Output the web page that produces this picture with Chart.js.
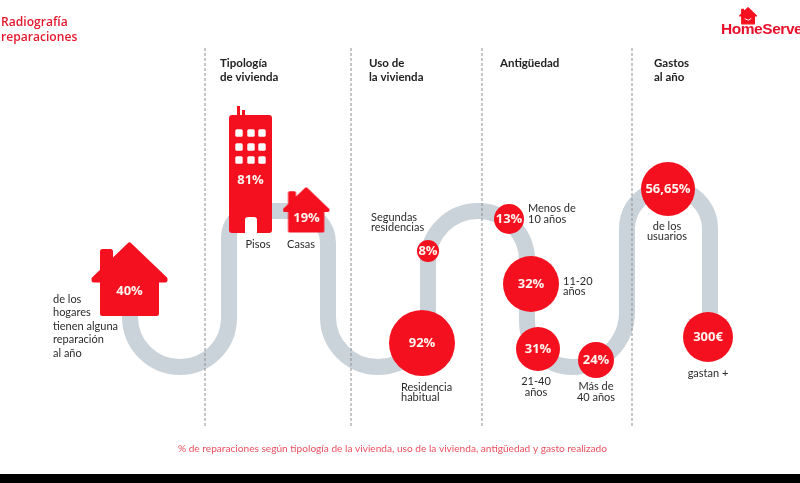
<!DOCTYPE html>
<html>
<head>
<meta charset="utf-8">
<style>
  html, body { margin: 0; background: #000; }
  canvas { display: block; background: #fff; }
</style>
<script src="https://cdn.jsdelivr.net/npm/chart.js@4/dist/chart.umd.min.js"></script>
</head>
<body>
<canvas id="chart" width="800" height="474"></canvas>
<script>
// values
const categories = ["Hogares", "Pisos", "Casas", "Residencia habitual", "Segundas residencias",
  "Menos de 10 años", "11-20 años", "21-40 años", "Más de 40 años", "Usuarios", "Gasto"];
const values = [40, 81, 19, 92, 8, 13, 32, 31, 24, 56.65, 300];
const units = ["%", "%", "%", "%", "%", "%", "%", "%", "%", "%", "€"];

// where each mark sits on the page
const markX = [129.5, 250.5, 306.5, 422, 428, 509, 531, 538, 596, 668, 708];
const markY = [279, 169.5, 210, 343, 251, 219, 284, 349, 360, 189, 337];
const markRadius = [0, 0, 0, 33, 11, 15, 28, 22, 18, 27, 25];
const labelY = [291, 180, 218, 343, 251, 219, 284, 349, 360, 189, 337];

const sectionLines = [205, 351, 482, 632];
const road = [[130, 316], [130, 367, 50], [229, 367, 49], [229, 211, 26], [328, 211, 32], [328, 367, 50],
  [428, 367, 50], [428, 211, 50], [527, 211, 49], [527, 367, 45], [627, 367, 55], [627, 188, 41],
  [710, 188, 41], [710, 338]];

const RED = "#f5101f";
const INK = "#2b2b2b";
const BOLD = "700 11.5px Lato";
const NOTE = "11px Lato";

const texts = [
  { lines: ["Radiografía", "reparaciones"], x: 1, y: 23, gap: 15, font: "600 12.1px 'Open Sans'", color: "#e3192d" },
  { lines: ["Tipología", "de vivienda"], x: 220, y: 63, gap: 14, font: BOLD, color: "#222" },
  { lines: ["Uso de", "la vivienda"], x: 369, y: 63, gap: 14, font: BOLD, color: "#222" },
  { lines: ["Antigüedad"], x: 500, y: 63, gap: 14, font: BOLD, color: "#222" },
  { lines: ["Gastos", "al año"], x: 654, y: 63, gap: 14, font: BOLD, color: "#222" },
  { lines: ["de los", "hogares", "tienen alguna", "reparación", "al año"], x: 53, y: 299, gap: 13.5 },
  { lines: ["Pisos"], x: 258, y: 244, align: "center" },
  { lines: ["Casas"], x: 301, y: 244, align: "center" },
  { lines: ["Segundas", "residencias"], x: 371, y: 217, gap: 10.5 },
  { lines: ["Residencia", "habitual"], x: 401, y: 387, gap: 10.5 },
  { lines: ["Menos de", "10 años"], x: 528, y: 208, gap: 11 },
  { lines: ["11-20", "años"], x: 563, y: 281, gap: 10.5 },
  { lines: ["21-40", "años"], x: 536, y: 381, gap: 11.5, align: "center" },
  { lines: ["Más de", "40 años"], x: 596, y: 386, gap: 11, align: "center" },
  { lines: ["de los", "usuarios"], x: 667, y: 226, gap: 10.5, align: "center" },
  { lines: ["gastan +"], x: 708, y: 373, align: "center" },
  { lines: ["% de reparaciones según tipología de la vivienda, uso de la vivienda, antigüedad y gasto realizado"],
    x: 392.5, y: 449, align: "center", font: "10.15px Lato", color: "#e9505f" },
];

function newIcon(width, height) {
  const icon = document.createElement("canvas");
  icon.width = width;
  icon.height = height;
  return icon;
}

function houseIcon(scale) {
  const icon = newIcon(Math.ceil(77 * scale), Math.ceil(74 * scale));
  const c = icon.getContext("2d");
  c.scale(scale, scale);
  c.fillStyle = c.strokeStyle = RED;
  c.lineWidth = 5;
  c.lineJoin = "round";
  c.beginPath();
  c.moveTo(38.5, 3);
  c.lineTo(74, 37);
  c.lineTo(74, 38);
  c.lineTo(65.5, 38);
  c.lineTo(65.5, 71.5);
  c.lineTo(11.5, 71.5);
  c.lineTo(11.5, 38);
  c.lineTo(3, 38);
  c.lineTo(3, 37);
  c.closePath();
  c.moveTo(11.5, 29);
  c.lineTo(11.5, 9.5);
  c.lineTo(19.5, 9.5);
  c.lineTo(19.5, 20);
  c.closePath();
  c.fill();
  c.stroke();
  return icon;
}

function buildingIcon() {
  const icon = newIcon(43, 127);
  const c = icon.getContext("2d");
  c.fillStyle = RED;
  c.fillRect(8, 0, 3, 12);
  c.fillRect(13, 4, 3, 8);
  c.beginPath();
  c.roundRect(0, 9, 43, 118, 3);
  c.fill();
  c.fillStyle = "#fff";
  for (const wy of [27, 41, 54]) {
    for (const wx of [10, 22, 33]) {
      c.beginPath();
      c.roundRect(wx - 3.7, wy - 3.7, 7.4, 7.4, 1.5);
      c.fill();
    }
  }
  c.beginPath();
  c.roundRect(16, 111, 12, 16, [3, 3, 0, 0]);
  c.fill();
  return icon;
}

const markStyles = [houseIcon(1), buildingIcon(), houseIcon(0.615)];
const logoIcon = houseIcon(0.235);

const roadPlugin = {
  id: "road",
  beforeDatasetsDraw(chart) {
    const { ctx, scales: { x, y } } = chart;
    ctx.save();
    ctx.strokeStyle = "#cbd3da";
    ctx.lineWidth = 16;
    ctx.beginPath();
    road.forEach((p, i) => {
      const px = x.getPixelForValue(p[0]);
      const py = y.getPixelForValue(p[1]);
      if (i === 0) ctx.moveTo(px, py);
      else if (p[2]) ctx.arcTo(px, py, x.getPixelForValue(road[i + 1][0]), y.getPixelForValue(road[i + 1][1]), p[2]);
      else ctx.lineTo(px, py);
    });
    ctx.stroke();
    ctx.restore();
  },
};

const textPlugin = {
  id: "texts",
  afterDatasetsDraw(chart) {
    const { ctx, scales: { x, y } } = chart;
    ctx.save();
    ctx.textBaseline = "middle";

    // number inside each mark
    ctx.fillStyle = "#fff4ee";
    ctx.textAlign = "center";
    ctx.font = "700 13px 'Open Sans'";
    values.forEach((v, i) => {
      const label = String(v).replace(".", ",") + units[i];
      ctx.fillText(label, x.getPixelForValue(markX[i]), y.getPixelForValue(labelY[i]));
    });

    texts.forEach((t) => {
      ctx.font = t.font || NOTE;
      ctx.fillStyle = t.color || INK;
      ctx.textAlign = t.align || "left";
      t.lines.forEach((line, i) => {
        ctx.fillText(line, x.getPixelForValue(t.x), y.getPixelForValue(t.y + i * (t.gap || 0)));
      });
    });

    // logo, runs off the right edge like the original
    ctx.drawImage(logoIcon, 739, 7);
    ctx.strokeStyle = "#fff";
    ctx.lineWidth = 1;
    ctx.beginPath();
    ctx.arc(748, 16, 4, 0.2 * Math.PI, 0.8 * Math.PI);
    ctx.stroke();
    ctx.fillStyle = "#e8112d";
    ctx.textAlign = "left";
    ctx.font = "700 15.5px 'Liberation Sans'";
    ctx.letterSpacing = "-0.45px";
    ctx.fillText("HomeServe", 721, 30);
    ctx.restore();
  },
};

const lineSets = sectionLines.map((lineX) => ({
  type: "line",
  data: [{ x: lineX, y: 48 }, { x: lineX, y: 427 }],
  borderColor: "#8c8f92",
  borderWidth: 1,
  borderDash: [3, 2],
  pointRadius: 0,
}));

new Chart(document.getElementById("chart"), {
  type: "scatter",
  data: {
    labels: categories,
    datasets: [
      ...lineSets,
      {
        data: values.map((v, i) => ({ x: markX[i], y: markY[i] })),
        backgroundColor: RED,
        borderWidth: 0,
        pointRadius: markRadius.map((r) => r || 1),
        pointStyle: values.map((v, i) => markStyles[i] || "circle"),
      },
    ],
  },
  options: {
    responsive: false,
    animation: false,
    layout: { padding: 0, autoPadding: false },
    scales: {
      x: { type: "linear", min: 0, max: 800, display: false },
      y: { type: "linear", min: 0, max: 474, reverse: true, display: false },
    },
    plugins: { legend: { display: false }, tooltip: { enabled: false } },
  },
  plugins: [roadPlugin, textPlugin],
});
</script>
</body>
</html>
